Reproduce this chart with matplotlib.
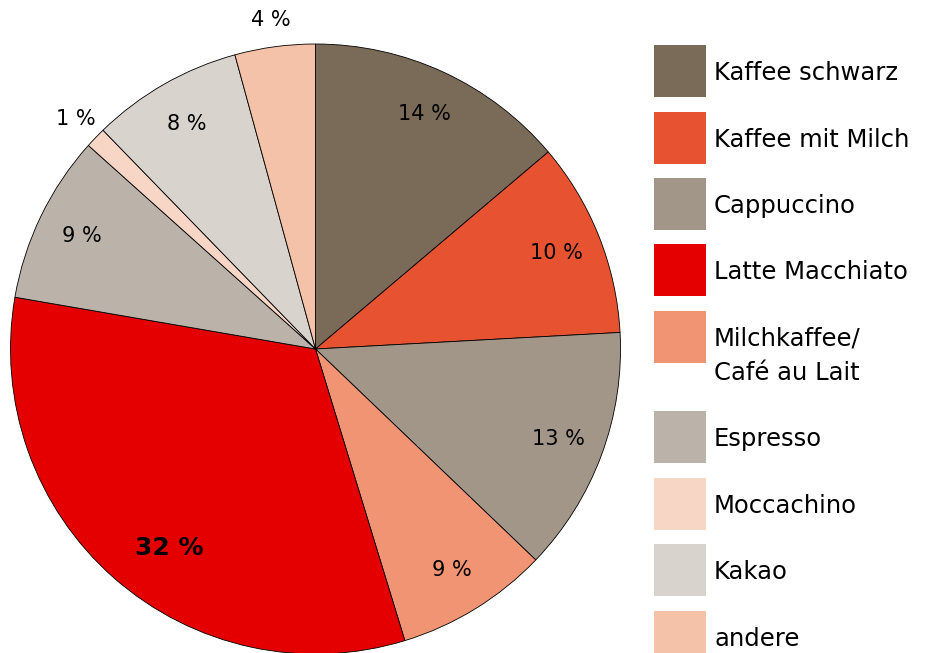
import matplotlib
matplotlib.use("Agg")
import matplotlib.pyplot as plt
from matplotlib.patches import Rectangle
import numpy as np

plt.rcParams['font.family'] = ['DejaVu Sans']

# Slices in clockwise order from 12 o'clock
slice_names = ["Kaffee schwarz", "Kaffee mit Milch", "Cappuccino", "Milchkaffee/\nCafé au Lait",
               "Latte Macchiato", "Espresso", "Moccachino", "Kakao", "andere"]
slice_values = [13.8, 10.3, 13.0, 8.1, 32.4, 8.9, 1.1, 8.0, 4.25]
slice_labels = ["14 %", "10 %", "13 %", "9 %", "32 %", "9 %", "1 %", "8 %", "4 %"]
slice_colors = ["#7a6a58", "#e75331", "#a29689", "#f09473", "#e40000",
                "#bbb3aa", "#f7d6c6", "#d8d3cd", "#f4c1a9"]

# Legend order
legend_names = ["Kaffee schwarz", "Kaffee mit Milch", "Cappuccino", "Latte Macchiato",
                "Milchkaffee/\nCafé au Lait", "Espresso", "Moccachino", "Kakao", "andere"]

W, H = 931, 653
fig = plt.figure(figsize=(W / 100, H / 100), dpi=100)

cx, cy, R = 315.5, 349, 305
ax = fig.add_axes([(cx - R) / W, (H - cy - R) / H, 2 * R / W, 2 * R / H])
wedges, _ = ax.pie(slice_values, colors=slice_colors, startangle=90, counterclock=False,
                   radius=1, wedgeprops=dict(edgecolor="black", linewidth=0.6))
ax.set_xlim(-1, 1)
ax.set_ylim(-1, 1)
ax.axis("off")

for w, lab, v in zip(wedges, slice_labels, slice_values):
    mid = (w.theta1 + w.theta2) / 2
    big = v > 30
    if big:
        mid += 5
    th = np.deg2rad(mid)
    r = 1.09 if v < 5 else (0.81 if big else 0.85)
    ax.text(r * np.cos(th), r * np.sin(th), lab, ha="center", va="center",
            fontsize=18 if big else 15, fontweight="bold" if big else "normal",
            color="black")

# Legend drawn manually
color_of = dict(zip(slice_names, slice_colors))
tops = [45, 112, 178, 244, 311, 411, 478, 544, 611]
for name, top in zip(legend_names, tops):
    fig.add_artist(Rectangle((654 / W, (H - top - 52) / H), 52 / W, 52 / H,
                             transform=fig.transFigure, facecolor=color_of[name],
                             edgecolor="none"))
    lines = name.split("\n")
    for i, ln in enumerate(lines):
        fig.text(714 / W, (H - (top + 28 + i * 34)) / H, ln, ha="left", va="center",
                 fontsize=17.5, color="black")

fig.savefig("out.png", dpi=100)
